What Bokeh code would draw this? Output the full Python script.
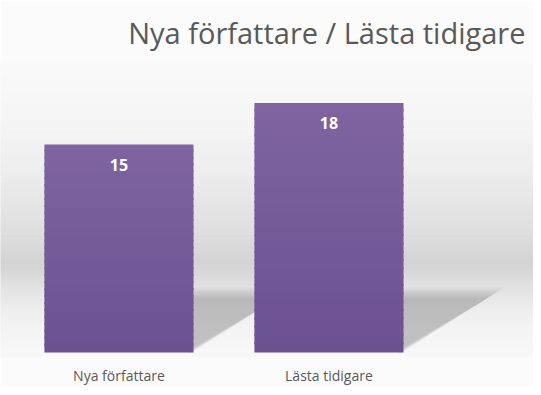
import numpy as np
from bokeh.plotting import figure
from bokeh.models import Range1d, FixedTicker, ColumnDataSource
from bokeh.core.properties import value
from bokeh.embed import file_html
from bokeh.resources import INLINE

# ---- data ----
categories = ["Nya författare", "Lästa tidigare", ""]
counts = [15, 18, 0]
title_text = "Nya författare / Lästa tidigare"

FONT = "Open Sans"
pos = list(range(len(categories)))
bar_w = 0.71

p = figure(width=533, height=387, output_backend="svg", toolbar_location=None,
           x_range=Range1d(-0.564, 1.974), y_range=Range1d(-0.36, 21.07),
           min_border_left=0, min_border_right=0, min_border_top=60, min_border_bottom=0,
           title=title_text)
p.background_fill_color = "#fbfbfb"
p.border_fill_color = "#fbfbfb"
p.outline_line_color = None
p.grid.visible = False
p.yaxis.visible = False

p.title.align = "right"
p.title.text_font = FONT
p.title.text_font_style = "normal"
p.title.text_font_size = "29px"
p.title.text_color = "#595959"
p.title.offset = 8
p.title.standoff = 18

# ---- decorative background gradient (pixel-y stops -> data coords) ----
stops_px = [60, 120, 170, 210, 240, 262, 272, 290, 310, 330, 360]
stops_g = [250, 245, 238, 228, 220, 212, 214, 226, 236, 243, 248]
to_data = lambda py: (355 - py) / 14.0
edges = np.linspace(60, 362, 120)
bl, bt, bc = [], [], []
for a, b in zip(edges[:-1], edges[1:]):
    g = int(round(np.interp((a + b) / 2, stops_px, stops_g)))
    bt.append(to_data(a) + 0.05); bl.append(to_data(b)); bc.append("#%02x%02x%02x" % (g, g, g))
p.quad(left=-1, right=3, bottom=bl, top=bt, fill_color=bc, line_color=None)

# ---- soft shadows behind bars ----
for i, v in enumerate(counts):
    if v <= 0:
        continue
    xr = pos[i] + bar_w / 2
    for k, a in enumerate(np.linspace(0, 1, 10)):
        grow = (1 - a) * 0.08
        top = 3.9 + (1 - a) * 0.8
        p.patch([xr - 0.02, xr + 0.40 + grow, xr - 0.02],
                [top, top, 0.2 - grow * 4], fill_color="#8f8f8f",
                fill_alpha=0.06, line_color=None)

# ---- bars with vertical gradient ----
top_c = np.array([0x80, 0x64, 0xa2])
bot_c = np.array([0x6a, 0x51, 0x8f])
n = 30
for i, v in enumerate(counts):
    if v <= 0:
        continue
    ys = np.linspace(0, v, n + 1)
    cols = []
    for j in range(n):
        t = (j + 0.5) / n
        c = bot_c + (top_c - bot_c) * t
        cols.append("#%02x%02x%02x" % tuple(int(round(x)) for x in c))
    tops = np.minimum(ys[1:] + 0.15, v)
    p.vbar(x=pos[i], width=bar_w, bottom=ys[:-1], top=tops, fill_color=cols,
           line_color=None)

# ---- value labels ----
src = ColumnDataSource(dict(x=pos, y=counts, t=[str(c) for c in counts],
                            off=[20 if c > 0 else -20 for c in counts]))
p.text(x="x", y="y", text="t", y_offset="off", source=src, text_align="center",
       text_baseline="middle", text_color="white", text_font=value(FONT),
       text_font_style="bold", text_font_size="16px")

# ---- x axis ----
p.xaxis.ticker = FixedTicker(ticks=pos)
p.xaxis.major_label_overrides = {i: c for i, c in enumerate(categories)}
p.xaxis.axis_line_color = None
p.xaxis.major_tick_line_color = None
p.xaxis.minor_tick_line_color = None
p.xaxis.major_label_text_font = FONT
p.xaxis.major_label_text_font_size = "14px"
p.xaxis.major_label_text_color = "#595959"
p.xaxis.major_label_standoff = 2

open("out.html", "w").write(file_html(p, INLINE))
